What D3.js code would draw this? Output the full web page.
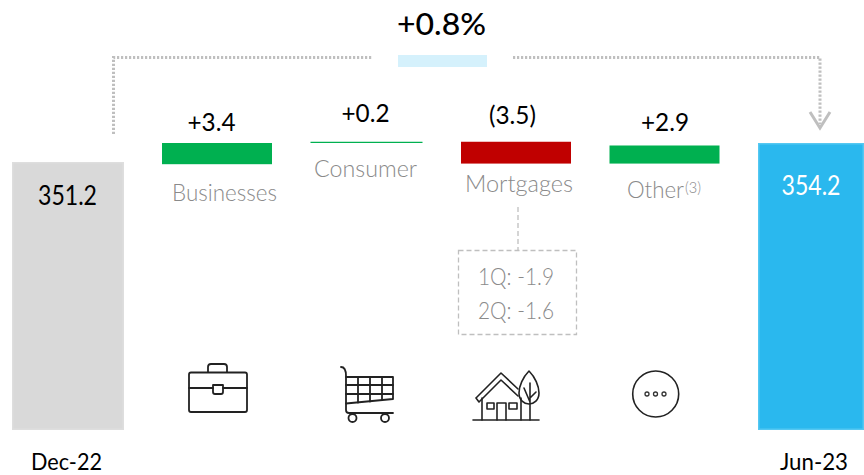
<!DOCTYPE html>
<html><head><meta charset="utf-8">
<style>html,body{margin:0;padding:0;background:#fff}svg{display:block}text{font-family:Lato,"Open Sans",sans-serif}</style>
<script src="https://cdn.jsdelivr.net/npm/d3@7"></script></head><body><svg id="c" width="864" height="475"></svg>
<script>
const totalLabels = ["Dec-22", "Jun-23"];
const totalValues = [351.2, 354.2];
const deltaNames = ["Businesses", "Consumer", "Mortgages", "Other"];
const deltaValues = [3.4, 0.2, -3.5, 2.9];
const deltaLabels = ["+3.4", "+0.2", "(3.5)", "+2.9"];
const breakdown = ["1Q: -1.9", "2Q: -1.6"];
const changeLabel = "+0.8%";

const svg = d3.select("#c");
const base = 430;
const yTotal = d3.scaleLinear().domain([351.2, 354.2]).range([162, 143]);
const yStep = d3.scaleLinear().domain([351.2, 354.6]).range([164.2, 143]);
const xDelta = d3.scaleOrdinal().domain(deltaNames).range([162, 310.5, 461, 609.5]);
const wDelta = d3.scaleOrdinal().domain(deltaNames).range([110, 112, 110, 110]);
const xTotal = d3.scaleOrdinal().domain(totalLabels).range([12, 758]);
const wTotal = d3.scaleOrdinal().domain(totalLabels).range([112, 106]);
const GREEN = "#00b050", RED = "#c00000", LABEL = "#8a8a8a";

// end bars
svg.selectAll(".tot").data(totalLabels).join("rect")
  .attr("x", d => xTotal(d) + 0.75).attr("width", d => wTotal(d) - 1.5)
  .attr("y", (d, i) => yTotal(totalValues[i]) + 0.75)
  .attr("height", (d, i) => base - yTotal(totalValues[i]) - 1.5)
  .attr("fill", (d, i) => i ? "#2ab8ee" : "#d9d9d9")
  .attr("stroke", (d, i) => i ? "#55c8f2" : "#dedede").attr("stroke-width", 1.5);
const totLabelPos = [[67.5, 205, "#000"], [811, 195, "#fff"]];
svg.selectAll(".totv").data(totalValues).join("text")
  .attr("x", (d, i) => totLabelPos[i][0]).attr("y", (d, i) => totLabelPos[i][1])
  .attr("text-anchor", "middle").attr("font-size", 26).attr("fill", (d, i) => totLabelPos[i][2])
  .attr("textLength", 59).attr("lengthAdjust", "spacingAndGlyphs")
  .text(d => d3.format(".1f")(d));
const axisCx = [66.5, 814], axisW = [71, 68];
svg.selectAll(".axl").data(totalLabels).join("text")
  .attr("x", (d, i) => axisCx[i]).attr("y", 470).attr("text-anchor", "middle")
  .attr("font-size", 23).attr("fill", "#000")
  .attr("textLength", (d, i) => axisW[i]).attr("lengthAdjust", "spacingAndGlyphs").text(d => d);

// waterfall steps
let run = totalValues[0];
const steps = deltaValues.map(v => { const s = { from: run, to: run + v }; run += v; return s; });
svg.selectAll(".step").data(deltaNames).join("rect")
  .attr("x", d => xDelta(d)).attr("width", d => wDelta(d))
  .attr("y", (d, i) => yStep(Math.max(steps[i].from, steps[i].to)))
  .attr("height", (d, i) => Math.abs(yStep(steps[i].from) - yStep(steps[i].to)))
  .attr("fill", (d, i) => deltaValues[i] < 0 ? RED : GREEN);
const valPos = [[211.5, 131], [365.5, 122], [512.5, 124], [665, 131]];
svg.selectAll(".dv").data(deltaLabels).join("text")
  .attr("x", (d, i) => valPos[i][0]).attr("y", (d, i) => valPos[i][1])
  .attr("text-anchor", "middle").attr("font-size", 25).attr("fill", "#000")
  .attr("textLength", (d, i) => [48, 48, 47, 48][i]).attr("lengthAdjust", "spacingAndGlyphs")
  .text(d => d);
const namePos = [[224.5, 201], [365.5, 176.5], [519, 191.5], [655.5, 198]];
svg.selectAll(".dn").data(deltaNames).join("text")
  .attr("x", (d, i) => namePos[i][0]).attr("y", (d, i) => namePos[i][1])
  .attr("text-anchor", "middle").attr("font-size", 23).attr("font-weight", 300).attr("fill", LABEL)
  .attr("textLength", (d, i) => [105, 103, 108, 57][i]).attr("lengthAdjust", "spacingAndGlyphs")
  .text(d => d);
svg.append("text").attr("x", 685).attr("y", 193).attr("font-size", 15).attr("font-weight", 300)
  .attr("fill", LABEL).attr("textLength", 16).attr("lengthAdjust", "spacingAndGlyphs").text("(3)");

// top change annotation
svg.append("rect").attr("x", 398).attr("y", 55).attr("width", 89).attr("height", 12).attr("fill", "#d5f1fc");
svg.append("text").attr("x", 441.5).attr("y", 35).attr("text-anchor", "middle")
  .attr("font-size", 30).attr("font-weight", 500).attr("fill", "#000")
  .attr("textLength", 89).attr("lengthAdjust", "spacingAndGlyphs").text(changeLabel);
const dot = { fill: "none", stroke: "#bfbfbf", "stroke-width": 3, "stroke-dasharray": "2.2 1.8" };
function line(d) { const p = svg.append("path").attr("d", d); for (const k in dot) p.attr(k, dot[k]); return p; }
line("M113.5 134V57.5H372");
line("M513 57.5H820V124");
svg.append("path").attr("d", "M810 112L820 128L830 112").attr("fill", "none").attr("stroke", "#bfbfbf").attr("stroke-width", 3);

// breakdown box
svg.append("path").attr("d", "M518 207V250").attr("stroke", "#bfbfbf").attr("stroke-width", 1.3).attr("stroke-dasharray", "5 3").attr("fill", "none");
svg.append("rect").attr("x", 458.5).attr("y", 250.5).attr("width", 118).attr("height", 84)
  .attr("fill", "#fff").attr("stroke", "#bfbfbf").attr("stroke-width", 1.3).attr("stroke-dasharray", "5 3");
svg.selectAll(".bd").data(breakdown).join("text")
  .attr("x", 516).attr("y", (d, i) => 285 + i * 34).attr("text-anchor", "middle")
  .attr("font-size", 24).attr("font-weight", 300).attr("fill", LABEL)
  .attr("textLength", 76).attr("lengthAdjust", "spacingAndGlyphs").text(d => d);

// icons
const icon = (paths, sw = 1.8) => {
  const g = svg.append("g").attr("fill", "none").attr("stroke", "#222").attr("stroke-width", sw)
    .attr("stroke-linejoin", "round").attr("stroke-linecap", "round");
  paths.forEach(d => g.append("path").attr("d", d));
  return g;
};
icon([
  "M191 372.5H245a2 2 0 0 1 2 2V410a2 2 0 0 1 -2 2H191a2 2 0 0 1 -2 -2V374.5a2 2 0 0 1 2 -2Z",
  "M208 372V367a3 3 0 0 1 3 -3H224a3 3 0 0 1 3 3V372",
  "M189 388H213M223 388H247",
  "M213 385H223V392a2 2 0 0 1 -2 2H215a2 2 0 0 1 -2 -2Z"
]);
icon([
  "M341 367C345 367 346 371 346 376V410C346 412 347 413 349 413H393",
  "M346 377H393V399L346 403.5",
  "M346 385H393M346 394H393",
  "M358 377V402.5M370 377V401.5M382 377V400"
]);
svg.append("circle").attr("cx", 352.5).attr("cy", 418).attr("r", 4).attr("fill", "#fff").attr("stroke", "#222").attr("stroke-width", 1.8);
svg.append("circle").attr("cx", 385).attr("cy", 418).attr("r", 4).attr("fill", "#fff").attr("stroke", "#222").attr("stroke-width", 1.8);
icon([
  "M473 420H539",
  "M482 420V398M521 420V398",
  "M476 398L501 373L518 389M476 398L479 402L501 380L518 396",
  "M497 420V403H506V420",
  "M487 403H494V409H487ZM509 403H517V409H509Z",
  "M529 371C523 377 519 386 519 393C519 400 524 404 529 404C534 404 539 400 539 393C539 386 535 377 529 371Z",
  "M530 383V420M530 402L524 388M530 398L536 392"
], 1.6);
svg.append("circle").attr("cx", 655.7).attr("cy", 394).attr("r", 23).attr("fill", "none").attr("stroke", "#222").attr("stroke-width", 1.6);
[647, 655.5, 664].forEach(cx => svg.append("circle").attr("cx", cx).attr("cy", 394).attr("r", 2).attr("fill", "none").attr("stroke", "#333").attr("stroke-width", 1.3));
</script></body></html>
